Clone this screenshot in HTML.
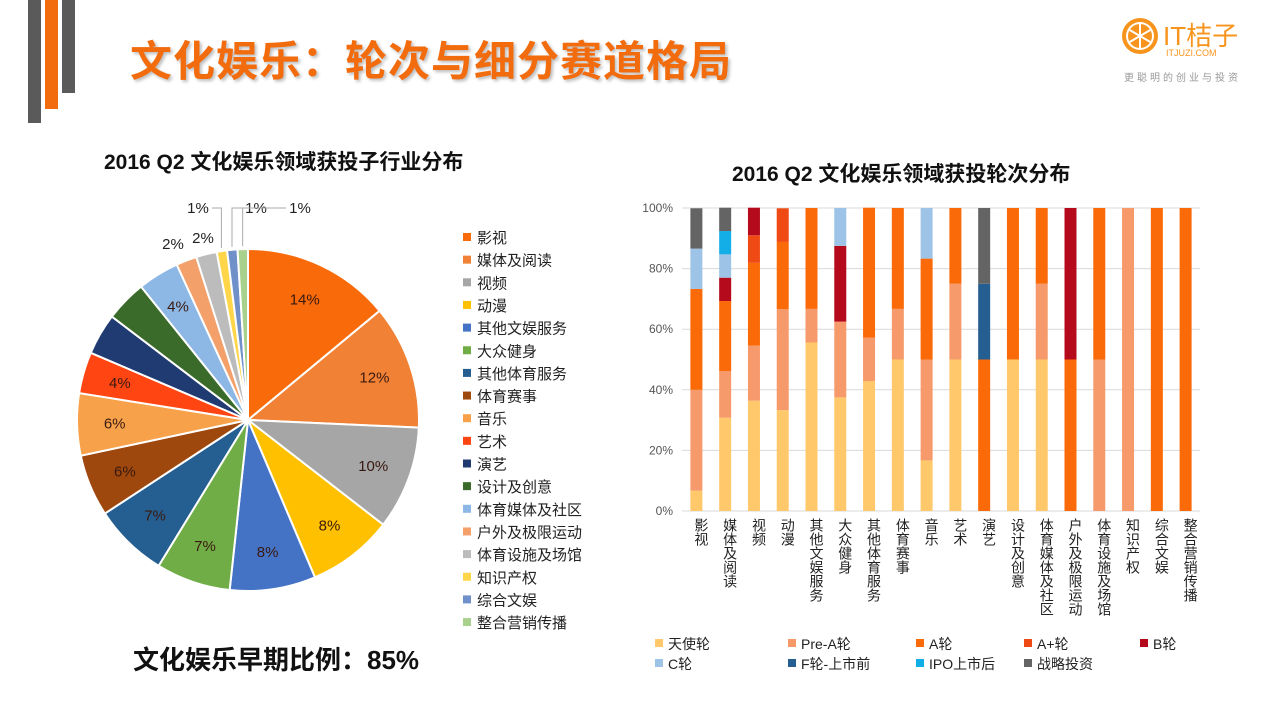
<!DOCTYPE html>
<html><head><meta charset="utf-8"><style>
body{margin:0;width:1280px;height:720px;background:#fff;position:relative;overflow:hidden;font-family:"Liberation Sans","Noto Sans CJK SC",sans-serif;}
.abs{position:absolute;}
</style></head><body>
<div class="abs" style="left:28px;top:0;width:13px;height:123px;background:#5a5a5a"></div>
<div class="abs" style="left:45px;top:0;width:13px;height:109px;background:#f26b0c"></div>
<div class="abs" style="left:62px;top:0;width:13px;height:93px;background:#5a5a5a"></div>
<div class="abs" style="left:130px;top:28px;font-size:42px;font-weight:bold;color:#f26b0c;letter-spacing:1px;text-shadow:2px 2px 3px #bbb;">文化娱乐：轮次与细分赛道格局</div>
<div class="abs" style="left:1118px;top:12px;width:150px;height:80px;">
  <svg width="40" height="40" style="position:absolute;left:2px;top:4px"><circle cx="20" cy="20" r="18" fill="#f7941d"/><circle cx="20" cy="20" r="14" fill="#fff"/><circle cx="20" cy="20" r="12" fill="#f7941d"/><g stroke="#fff" stroke-width="2"><line x1="20" y1="8" x2="20" y2="32"/><line x1="9.6" y1="14" x2="30.4" y2="26"/><line x1="9.6" y1="26" x2="30.4" y2="14"/></g></svg>
  <div class="abs" style="left:45px;top:4px;font-size:26px;color:#f7941d;">IT桔子</div>
  <div class="abs" style="left:48px;top:36px;font-size:9px;color:#f7941d;">ITJUZI.COM</div>
  <div class="abs" style="left:6px;top:57px;font-size:10px;color:#999;letter-spacing:3px;">更聪明的创业与投资</div>
</div>
<div class="abs" style="left:104px;top:146px;font-size:21px;font-weight:bold;color:#111;">2016 Q2 文化娱乐领域获投子行业分布</div>
<div class="abs" style="left:732px;top:158px;font-size:21px;font-weight:bold;color:#111;">2016 Q2 文化娱乐领域获投轮次分布</div>
<div class="abs" style="left:133px;top:640px;font-size:26px;font-weight:bold;color:#111;">文化娱乐早期比例：85%</div>
<svg id="pie" class="abs" style="left:0;top:0" width="640" height="720"></svg>
<svg id="bar" class="abs" style="left:0;top:0" width="1280" height="720"></svg>
<script>
const NS='http://www.w3.org/2000/svg';
function mk(p,t,a){const e=document.createElementNS(NS,t);for(const k in a)e.setAttribute(k,a[k]);p.appendChild(e);return e;}
const pieCats=['影视','媒体及阅读','视频','动漫','其他文娱服务','大众健身','其他体育服务','体育赛事','音乐','艺术','演艺','设计及创意','体育媒体及社区','户外及极限运动','体育设施及场馆','知识产权','综合文娱','整合营销传播'];
const pieVals=[14.3,12,10,8.3,8.3,7.2,7.2,6,6,4,4,4,4,2,2,1,1,1];
const pieLabels=['14%','12%','10%','8%','8%','7%','7%','6%','6%','4%','','','4%','2%','2%','1%','1%','1%'];
const pieColors=['#f86a0a','#f08135','#a6a6a6','#ffc000','#4472c4','#70ad47','#255e91','#9e480e','#f7a24b','#ff4512','#1f3b72','#3b6b2b','#8db7e4','#f4a06a','#bcbcbc','#ffd54a','#6f90c9','#a9d18e'];
// outside label anchor points for tiny slices (layout, not data)
const outsideLabelPos={13:[173,249],14:[203,243],15:[198,213],16:[256,213],17:[300,213]};
const pie=document.getElementById('pie');
const cx=248,cy=420,R=171;
const tot=pieVals.reduce((a,b)=>a+b,0);
let acc=0;
pieVals.forEach((v,i)=>{
  const a0=acc/tot*2*Math.PI;acc+=v;const a1=acc/tot*2*Math.PI;
  const p=(a,r)=>[cx+r*Math.sin(a),cy-r*Math.cos(a)];
  const [x0,y0]=p(a0,R),[x1,y1]=p(a1,R);
  const s=mk(pie,'path',{d:`M${cx},${cy}L${x0},${y0}A${R},${R} 0 ${a1-a0>Math.PI?1:0} 1 ${x1},${y1}Z`,fill:pieColors[i],stroke:'#fff','stroke-width':2});
  
  
  if(pieLabels[i]){
    const am=(a0+a1)/2;
    let lx,ly;
    if(outsideLabelPos[i]){
      [lx,ly]=outsideLabelPos[i];
      if(v<=1){
        const [ex,ey]=p(am,R+3);
        const sx=lx+(lx<ex?14:-14);
        const ln=mk(pie,'polyline',{points:`${sx},${ly-5} ${ex+(lx<ex?0:0)},${ly-5} ${ex},${ey}`,fill:'none',stroke:'#aaa','stroke-width':1});
        
        
      }
    } else {
      [lx,ly]=p(am,R*0.78);ly+=5;
    }
    const t=mk(pie,'text',{x:lx,y:ly,'text-anchor':'middle','font-size':15,fill:v<=2?'#222':'#3a1a10'});
    t.textContent=pieLabels[i];
    
    
  }
  const ly=238+i*22.65;
  const r=mk(pie,'rect',{x:463,y:ly-5,width:8,height:8,fill:pieColors[i]});
  
  
  const lt=mk(pie,'text',{x:477,y:ly+5,'font-size':15,fill:'#222'});
  lt.textContent=pieCats[i];
  
  
});

const barCats=['影视','媒体及阅读','视频','动漫','其他文娱服务','大众健身','其他体育服务','体育赛事','音乐','艺术','演艺','设计及创意','体育媒体及社区','户外及极限运动','体育设施及场馆','知识产权','综合文娱','整合营销传播'];
const rounds=['天使轮','Pre-A轮','A轮','A+轮','B轮','C轮','F轮-上市前','IPO上市后','战略投资'];
const sAngel=[6.7,30.8,36.4,33.3,55.6,37.5,42.9,50,16.7,50,0,50,50,0,0,0,0,0];
const sPreA=[33.3,15.4,18.2,33.3,11.1,25,14.3,16.7,33.3,25,0,0,25,0,50,100,0,0];
const sA=[33.3,23.1,27.3,22.2,33.3,0,42.9,33.3,33.3,25,50,50,25,50,50,0,100,100];
const sAplus=[0,0,9.1,11.1,0,0,0,0,0,0,0,0,0,0,0,0,0,0];
const sB=[0,7.7,9.1,0,0,25,0,0,0,0,0,0,0,50,0,0,0,0];
const sC=[13.3,7.7,0,0,0,12.5,0,0,16.7,0,0,0,0,0,0,0,0,0];
const sF=[0,0,0,0,0,0,0,0,0,0,25,0,0,0,0,0,0,0];
const sIPO=[0,7.7,0,0,0,0,0,0,0,0,0,0,0,0,0,0,0,0];
const sStrat=[13.3,7.7,0,0,0,0,0,0,0,0,25,0,0,0,0,0,0,0];
const series=[sAngel,sPreA,sA,sAplus,sB,sC,sF,sIPO,sStrat];
const yTicks=['0%','20%','40%','60%','80%','100%'];
const barColors=['#ffc96b','#f79a6b','#fb6a08','#f04a14','#b5091c','#9dc3e6','#255e91','#13aee8','#646464'];
const bar=document.getElementById('bar');
const y0=511,y1=208,xL=682,xR=1200;
const ys=v=>y0-(y0-y1)*v/100;
const step=(xR-xL)/barCats.length;
const xs=i=>xL+step*(i+0.5);
yTicks.forEach((t,i)=>{
  const v=i*20;
  const g=mk(bar,'line',{x1:xL,x2:xR,y1:ys(v),y2:ys(v),stroke:'#d9d9d9','stroke-width':1});
  
  
  const tx=mk(bar,'text',{x:673,y:ys(v)+4,'text-anchor':'end','font-size':12,fill:'#555'});
  tx.textContent=t;
  
  
});
barCats.forEach((c,i)=>{
  let base=0;
  series.forEach((s,k)=>{
    const v=s[i];if(!v)return;
    const r=mk(bar,'rect',{x:xs(i)-6,y:ys(base+v),width:12,height:ys(base)-ys(base+v),fill:barColors[k]});
    
    
    base+=v;
  });
  const t=mk(bar,'text',{x:xs(i)+5,y:518,'font-size':14,fill:'#222',style:'writing-mode:vertical-rl'});
  t.textContent=c;
  
  
});
const legX=[655,788,916,1024,1140];
rounds.forEach((r,i)=>{
  const col=i%5,row=Math.floor(i/5);
  const x=legX[col],y=644+row*20;
  const sq=mk(bar,'rect',{x:x,y:y-5,width:8,height:8,fill:barColors[i]});
  
  
  const t=mk(bar,'text',{x:x+13,y:y+5,'font-size':14,fill:'#222'});
  t.textContent=r;
  
  
});
</script>
</body></html>
